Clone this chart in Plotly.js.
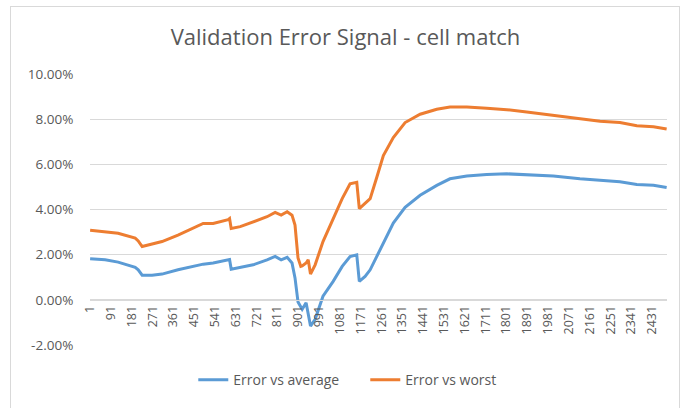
<!DOCTYPE html>
<html>
<head>
<meta charset="utf-8">
<script src="https://cdn.plot.ly/plotly-3.0.1.min.js"></script>
<style>
  html, body { margin: 0; padding: 0; background: #ffffff; }
  #wrap { position: relative; width: 691px; height: 408px; overflow: hidden; }
  #chart { width: 691px; height: 408px; }
  #frame { position: absolute; left: 10px; top: 6px; width: 670px; height: 420px;
           border: 1px solid #d9d9d9; pointer-events: none; box-sizing: border-box; }
</style>
</head>
<body>
<div id="wrap">
  <div id="chart"></div>
  <div id="frame"></div>
</div>
<script>
// Row index (category) of each sampled point
const rows = [1,66,122,196,209,226,269,312,381,455,
              490,533,598,604,611,650,706,766,801,827,
              853,874,887,900,912,918,935,944,954,974,
              1008,1052,1091,1125,1154,1165,1190,1212,1241,1269,
              1312,1363,1428,1500,1557,1630,1716,1803,1889,2004,
              2119,2206,2292,2365,2437,2494];

// Error vs average (%)
const errorVsAverage = [1.82,1.77,1.67,1.44,1.33,1.09,1.09,1.14,1.33,1.48,
                        1.58,1.63,1.77,1.78,1.36,1.44,1.55,1.77,1.92,1.77,
                        1.88,1.63,0.97,-0.10,-0.35,-0.42,-0.13,-0.60,-1.16,-0.86,
                        0.16,0.82,1.48,1.92,1.99,0.82,1.04,1.33,1.95,2.55,
                        3.40,4.10,4.63,5.07,5.36,5.48,5.55,5.58,5.54,5.48,
                        5.36,5.30,5.23,5.11,5.07,4.97];

// Error vs worst (%)
const errorVsWorst = [3.08,3.02,2.95,2.73,2.61,2.36,2.46,2.58,2.87,3.24,
                      3.38,3.38,3.55,3.60,3.16,3.24,3.46,3.68,3.87,3.75,
                      3.90,3.75,3.31,1.85,1.48,1.50,1.63,1.77,1.14,1.55,
                      2.58,3.60,4.48,5.14,5.20,4.04,4.26,4.48,5.44,6.39,
                      7.19,7.85,8.22,8.44,8.54,8.54,8.48,8.42,8.32,8.18,
                      8.03,7.91,7.85,7.71,7.66,7.56];

// Category tick labels
const xTickLabels = ["1","91","181","271","361","451","541","631","721","811","901","991",
                     "1081","1171","1261","1351","1441","1531","1621","1711","1801","1891",
                     "1981","2071","2161","2251","2341","2431"];
// Value axis ticks and labels
const yTicks = [-2, 0, 2, 4, 6, 8, 10];
const yTickLabels = ["-2.00%", "0.00%", "2.00%", "4.00%", "6.00%", "8.00%", "10.00%"];

const font = "'Open Sans', 'Noto Sans', sans-serif";

const traces = [
  { x: rows, y: errorVsAverage, name: "Error vs average", type: "scatter", mode: "lines",
    line: { color: "#5B9BD5", width: 3 } },
  { x: rows, y: errorVsWorst, name: "Error vs worst", type: "scatter", mode: "lines",
    line: { color: "#ED7D31", width: 3 } }
];

const layout = {
  width: 691, height: 408,
  paper_bgcolor: "#ffffff", plot_bgcolor: "#ffffff",
  margin: { l: 90, r: 24, t: 74, b: 61 },
  font: { family: font, color: "#595959", size: 12 },
  title: { text: "Validation Error Signal - cell match", x: 0.5, xanchor: "center",
           y: 0.909, yanchor: "middle", yref: "container",
           font: { family: font, size: 22, color: "#595959" } },
  xaxis: {
    type: "linear", range: [0.5, 2495.5],
    tickmode: "array", tickvals: xTickLabels.map(Number), ticktext: xTickLabels,
    tickangle: -90, tickfont: { family: font, size: 12.5, color: "#595959" },
    showgrid: false, zeroline: false,
    showline: true, linecolor: "#d9d9d9", linewidth: 1,
    anchor: "free", position: 2 / 12, ticks: "", fixedrange: true
  },
  yaxis: {
    range: [-2, 10], tickmode: "array", tickvals: yTicks, ticktext: yTickLabels,
    tickfont: { family: font, size: 13.5, color: "#595959" },
    showgrid: true, gridcolor: "#d9d9d9", gridwidth: 1,
    zeroline: false, showline: false,
    ticks: "outside", ticklen: 13, tickcolor: "rgba(0,0,0,0)", fixedrange: true
  },
  showlegend: true,
  legend: { orientation: "h", x: 0.179, xanchor: "left", y: -0.13, yanchor: "middle",
            entrywidth: 127, entrywidthmode: "pixels",
            font: { family: font, size: 14, color: "#595959" }, bgcolor: "rgba(0,0,0,0)" }
};

Plotly.newPlot("chart", traces, layout, { displayModeBar: false, staticPlot: true });
</script>
</body>
</html>
